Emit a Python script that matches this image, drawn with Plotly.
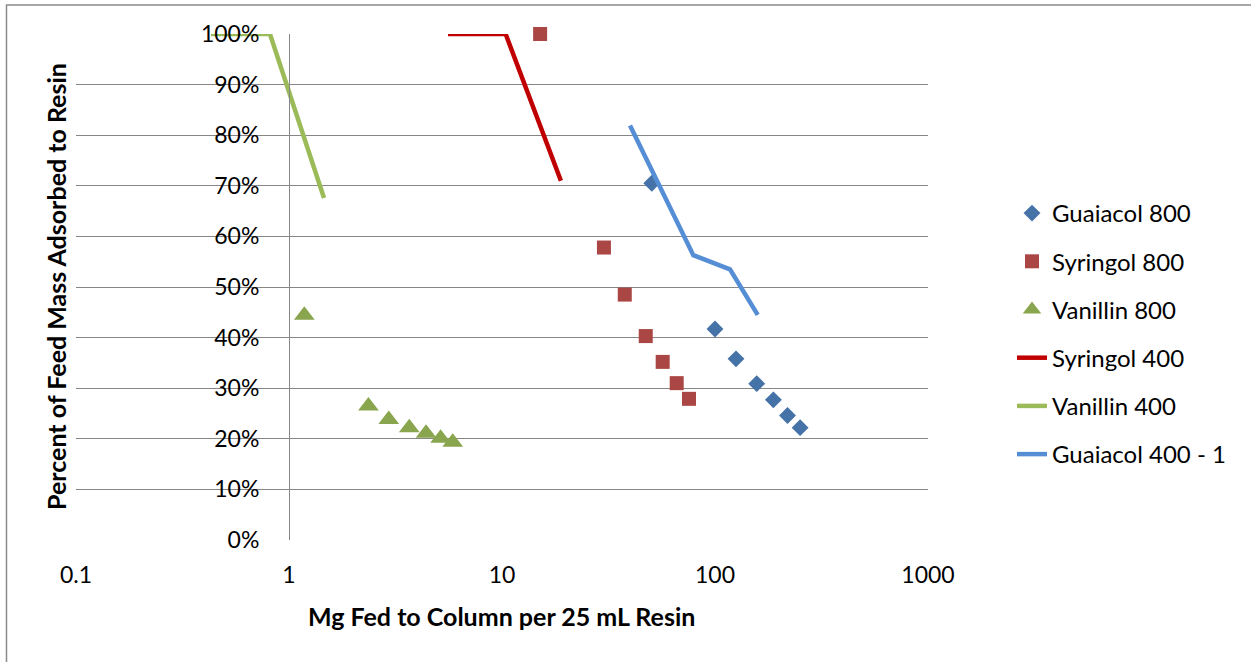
import plotly.graph_objects as go

# Fed mass (mg per 25 mL resin) vs fraction of feed adsorbed
guaiacol_800_x = [50.5, 100, 125.5, 157, 188, 219, 251]
guaiacol_800_y = [0.705, 0.417, 0.358, 0.309, 0.277, 0.246, 0.222]

syringol_800_x = [15.1, 30.1, 37.7, 47.3, 56.8, 66.1, 75.5]
syringol_800_y = [1.00, 0.578, 0.485, 0.403, 0.352, 0.310, 0.279]

vanillin_800_x = [1.18, 2.36, 2.94, 3.67, 4.40, 5.15, 5.87]
vanillin_800_y = [0.444, 0.265, 0.238, 0.222, 0.211, 0.201, 0.193]

syringol_400_x = [5.58, 10.4, 18.9]
syringol_400_y = [1.00, 1.00, 0.710]

vanillin_400_x = [0.43, 0.814, 1.46]
vanillin_400_y = [1.00, 1.00, 0.676]

guaiacol_400_x = [39.9, 79.1, 117.6, 158.7]
guaiacol_400_y = [0.819, 0.563, 0.535, 0.445]

y_ticks = [i / 10 for i in range(11)]
x_ticks = [0.1, 1, 10, 100, 1000]
x_tick_text = ["0.1", "1", "10", "100", "1000"]

FONT = "Lato"
GRID = "#868686"

fig = go.Figure()

fig.add_trace(go.Scatter(
    x=guaiacol_800_x, y=guaiacol_800_y, mode="markers", name="Guaiacol 800",
    legendgroup="g800",
    marker=dict(symbol="diamond", size=13, color="#4572A7"),
    cliponaxis=False))
fig.add_trace(go.Scatter(
    x=syringol_800_x, y=syringol_800_y, mode="markers", name="Syringol 800",
    legendgroup="s800",
    marker=dict(symbol="square", size=14, color="#AA4643"),
    cliponaxis=False))
fig.add_trace(go.Scatter(
    x=vanillin_800_x, y=vanillin_800_y, mode="markers", name="Vanillin 800",
    legendgroup="v800",
    marker=dict(symbol="triangle-up", size=18, color="#89A54E"),
    cliponaxis=False))
fig.add_trace(go.Scatter(
    x=syringol_400_x, y=syringol_400_y, mode="lines", name="Syringol 400",
    legendgroup="s400",
    line=dict(color="#C00000", width=4.5), cliponaxis=False))
fig.add_trace(go.Scatter(
    x=vanillin_400_x, y=vanillin_400_y, mode="lines", name="Vanillin 400",
    legendgroup="v400",
    line=dict(color="#9BBB59", width=4.5), cliponaxis=False))
fig.add_trace(go.Scatter(
    x=guaiacol_400_x, y=guaiacol_400_y, mode="lines", name="Guaiacol 400 - 1",
    legendgroup="g400",
    line=dict(color="#558ED5", width=4.5), cliponaxis=False))

L, R, T, B = 76, 323, 34, 122
W, H = 1251, 662
pw, ph = W - L - R, H - T - B


def px_x(px):
    return (px - L) / pw


def px_y(py):
    return (H - B - py) / ph


fig.update_layout(
    width=W, height=H,
    margin=dict(l=L, r=R, t=T, b=B),
    paper_bgcolor="white", plot_bgcolor="white",
    font=dict(family=FONT, size=23, color="black"),
    xaxis=dict(
        type="log", range=[-1, 3],
        tickvals=x_ticks, ticktext=x_tick_text,
        showgrid=False, zeroline=False, showline=False,
        ticks="", ticklabelstandoff=19,
        tickfont=dict(family=FONT, size=23, color="black"),
    ),
    yaxis=dict(
        range=[0, 1], tickvals=y_ticks, tickformat=".0%",
        showgrid=True, gridcolor=GRID, gridwidth=1,
        zeroline=False, showline=True, linecolor=GRID, linewidth=1,
        anchor="free", position=0.25,
        ticks="", ticklabelstandoff=25,
        tickfont=dict(family=FONT, size=23, color="black"),
    ),
    legend=dict(
        x=px_x(1012), y=px_y(191), xanchor="left", yanchor="top",
        font=dict(family=FONT, size=24, color="black"),
        tracegroupgap=14, bgcolor="rgba(0,0,0,0)",
    ),
    showlegend=True,
    annotations=[
        dict(text="<b>Percent of Feed Mass Adsorbed to Resin</b>",
             xref="paper", yref="paper", x=px_x(56), y=px_y(287),
             xanchor="center", yanchor="middle",
             textangle=-90, showarrow=False,
             font=dict(family=FONT, size=25, color="black")),
        dict(text="<b>Mg Fed to Column per 25 mL Resin</b>",
             xref="paper", yref="paper", x=px_x(501), y=px_y(616),
             xanchor="center", yanchor="middle",
             showarrow=False,
             font=dict(family=FONT, size=25, color="black")),
    ],
    shapes=[
        dict(type="rect", xref="paper", yref="paper",
             x0=px_x(6.5), x1=px_x(1270), y0=px_y(680), y1=px_y(5),
             line=dict(color="#8A8A8A", width=1.5), layer="below"),
    ],
)

fig.write_html("out.html")
